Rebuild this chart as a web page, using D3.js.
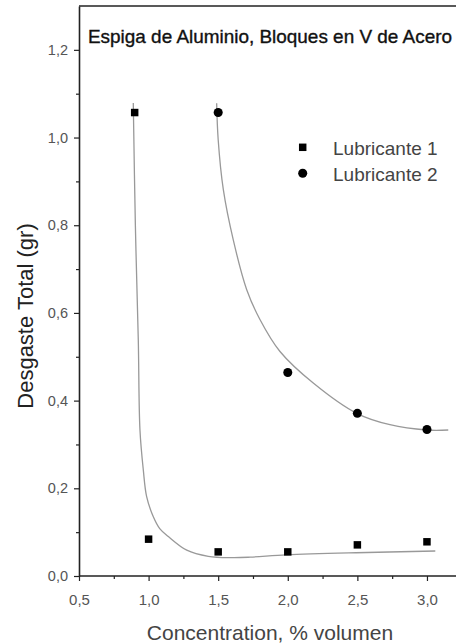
<!DOCTYPE html>
<html><head><meta charset="utf-8">
<script src="https://cdn.jsdelivr.net/npm/d3@7"></script>
<style>body{margin:0;background:#fff;} svg{display:block;font-family:Arial,"Liberation Sans",sans-serif;}</style>
</head><body>
<svg id="chart" width="456" height="644"></svg>
<script>
// Data
const xTicks = [0.5, 1.0, 1.5, 2.0, 2.5, 3.0];
const yTicks = [0.0, 0.2, 0.4, 0.6, 0.8, 1.0, 1.2];
const lub1X = [0.9, 1.0, 1.5, 2.0, 2.5, 3.0];
const lub1Y = [1.057, 0.084, 0.055, 0.055, 0.071, 0.078];
const lub2X = [1.5, 2.0, 2.5, 3.0];
const lub2Y = [1.057, 0.464, 0.371, 0.334];
// fitted curves
const fit1X = [0.890, 0.905, 0.926, 0.938, 0.962, 0.986, 1.034, 1.080, 1.142, 1.274, 1.429, 1.600, 1.73, 1.99, 2.49, 3.06];
const fit1Y = [1.079, 0.800, 0.538, 0.333, 0.242, 0.181, 0.135, 0.108, 0.090, 0.059, 0.045, 0.042, 0.043, 0.048, 0.053, 0.057];
const fit2X = [1.489, 1.500, 1.537, 1.608, 1.705, 1.80, 1.944, 2.183, 2.495, 2.734, 2.998, 3.153];
const fit2Y = [1.078, 0.995, 0.881, 0.767, 0.653, 0.585, 0.512, 0.440, 0.371, 0.345, 0.333, 0.333];
const seriesNames = ["Lubricante 1", "Lubricante 2"];

const svg = d3.select("#chart");
const x = d3.scaleLinear().domain([0.5, 3.2]).range([79, 454.8]);
const y = d3.scaleLinear().domain([0, 1.3]).range([576, 6]);
const fmt = v => d3.format(".1f")(v).replace(".", ",");
const axisColor = "#222";

// top border
svg.append("line").attr("x1", 79).attr("x2", 456).attr("y1", y(1.3)).attr("y2", y(1.3))
  .attr("stroke", axisColor).attr("stroke-width", 1.6);

// x axis
const xAxis = d3.axisBottom(x).tickValues(xTicks).tickFormat(fmt).tickSize(5).tickSizeOuter(0);
const gx = svg.append("g").attr("transform", `translate(0,${y(0)})`).call(xAxis);
gx.select(".domain").attr("stroke", axisColor).attr("stroke-width", 1.6).attr("d", `M79,0H456`);
gx.selectAll(".tick line").attr("stroke", axisColor).attr("stroke-width", 1.2);
gx.selectAll(".tick text").attr("fill", "#555").attr("font-size", 15).attr("y", 29).attr("dy", null);
const xMinor = d3.axisBottom(x).tickValues([0.75, 1.25, 1.75, 2.25, 2.75]).tickFormat("").tickSize(3).tickSizeOuter(0);
const gxm = svg.append("g").attr("transform", `translate(0,${y(0)})`).call(xMinor);
gxm.select(".domain").remove();
gxm.selectAll(".tick line").attr("stroke", axisColor).attr("stroke-width", 1.2);

// y axis
const yAxis = d3.axisLeft(y).tickValues(yTicks).tickFormat(fmt).tickSize(5).tickSizeOuter(0);
const gy = svg.append("g").attr("transform", `translate(${x(0.5)},0)`).call(yAxis);
gy.select(".domain").attr("stroke", axisColor).attr("stroke-width", 1.6);
gy.selectAll(".tick line").attr("stroke", axisColor).attr("stroke-width", 1.2);
gy.selectAll(".tick text").attr("fill", "#555").attr("font-size", 14.5).attr("x", -11);
const yMinor = d3.axisLeft(y).tickValues([0.1, 0.3, 0.5, 0.7, 0.9, 1.1]).tickFormat("").tickSize(3).tickSizeOuter(0);
const gym = svg.append("g").attr("transform", `translate(${x(0.5)},0)`).call(yMinor);
gym.select(".domain").remove();
gym.selectAll(".tick line").attr("stroke", axisColor).attr("stroke-width", 1.2);

// fit curves
const line = d3.line().x(d => x(d[0])).y(d => y(d[1])).curve(d3.curveCatmullRom.alpha(0.5));
svg.append("path").datum(d3.zip(fit1X, fit1Y)).attr("d", line)
  .attr("fill", "none").attr("stroke", "#999").attr("stroke-width", 1.3);
svg.append("path").datum(d3.zip(fit2X, fit2Y)).attr("d", line)
  .attr("fill", "none").attr("stroke", "#999").attr("stroke-width", 1.3);

// markers
const sq = d3.symbol().type(d3.symbolSquare).size(56);
const ci = d3.symbol().type(d3.symbolCircle).size(64);
svg.append("g").selectAll("path").data(d3.zip(lub1X, lub1Y)).join("path")
  .attr("d", sq).attr("transform", d => `translate(${x(d[0])},${y(d[1])})`).attr("fill", "#000");
svg.append("g").selectAll("path").data(d3.zip(lub2X, lub2Y)).join("path")
  .attr("d", ci).attr("transform", d => `translate(${x(d[0])},${y(d[1])})`).attr("fill", "#000");

// legend
const leg = svg.append("g");
leg.append("path").attr("d", sq).attr("transform", "translate(302.7,147.3)").attr("fill", "#000");
leg.append("path").attr("d", ci).attr("transform", "translate(302.7,173.3)").attr("fill", "#000");
leg.append("text").attr("x", 333).attr("y", 154.5).attr("font-size", 19).attr("fill", "#444").text(seriesNames[0]);
leg.append("text").attr("x", 333).attr("y", 180.5).attr("font-size", 19).attr("fill", "#444").text(seriesNames[1]);

// title
svg.append("text").attr("x", 88).attr("y", 43).attr("font-size", 18.5).attr("fill", "#111")
  .attr("stroke", "#111").attr("stroke-width", 0.35)
  .attr("textLength", 364).attr("lengthAdjust", "spacingAndGlyphs")
  .text("Espiga de Aluminio, Bloques en V de Acero");

// axis titles
svg.append("text").attr("x", 270).attr("y", 640).attr("text-anchor", "middle").attr("font-size", 21)
  .attr("fill", "#444").text("Concentration, % volumen");
svg.append("text").attr("transform", "translate(32.5,316) rotate(-90)").attr("text-anchor", "middle")
  .attr("font-size", 22).attr("fill", "#222").text("Desgaste Total (gr)");
</script>
</body></html>
